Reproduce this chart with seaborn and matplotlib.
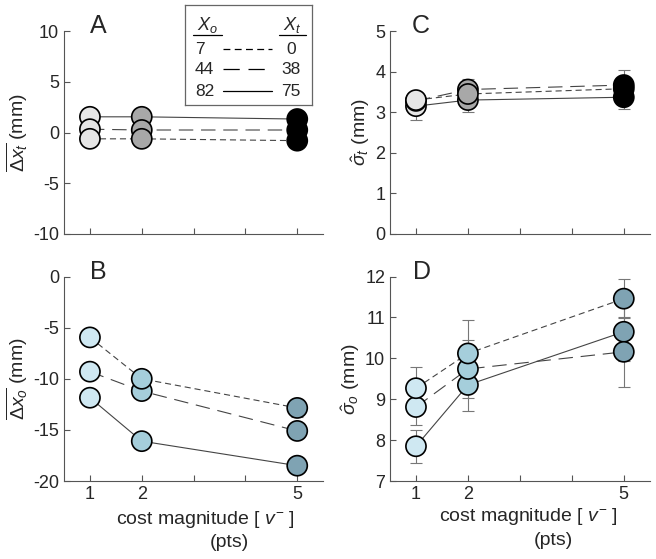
import numpy as np
import pandas as pd
import seaborn as sns
import matplotlib.pyplot as plt

sns.set_style('ticks')
plt.rcParams['font.family'] = ['Liberation Sans', 'DejaVu Sans']
plt.rcParams['mathtext.fontset'] = 'custom'
plt.rcParams['mathtext.rm'] = 'Liberation Sans'
plt.rcParams['mathtext.it'] = 'Liberation Sans:italic'
plt.rcParams['mathtext.bf'] = 'Liberation Sans:bold'
plt.rcParams['axes.unicode_minus'] = False

# cost magnitudes (pts)
cost = [1, 2, 5]
# series: x_o / x_t pairs, drawing order solid -> long dash -> short dash
series = ['82/75', '44/38', '7/0']

# A: mean target error (mm)
dxt = {'82/75': [1.55, 1.55, 1.33], '44/38': [0.33, 0.25, 0.25], '7/0': [-0.62, -0.62, -0.8]}
dxt_err = {'82/75': [0.2, 0.2, 0.2], '44/38': [0.2, 0.2, 0.2], '7/0': [0.2, 0.2, 0.2]}
# B: mean origin error (mm)
dxo = {'82/75': [-11.85, -16.1, -18.5], '44/38': [-9.3, -11.2, -15.1], '7/0': [-5.95, -10.0, -12.85]}
dxo_err = {'82/75': [0.3, 0.3, 0.3], '44/38': [0.3, 0.3, 0.3], '7/0': [0.5, 0.3, 0.9]}
# C: target sd (mm)
sdt = {'82/75': [3.15, 3.3, 3.37], '44/38': [3.28, 3.56, 3.67], '7/0': [3.3, 3.45, 3.58]}
sdt_err = {'82/75': [0.35, 0.3, 0.3], '44/38': [0.22, 0.25, 0.38], '7/0': [0.18, 0.2, 0.25]}
# D: origin sd (mm)
sdo = {'82/75': [7.85, 9.35, 10.65], '44/38': [8.81, 9.74, 10.16], '7/0': [9.27, 10.12, 11.46]}
sdo_err = {'82/75': [0.4, 0.63, 0.72], '44/38': [0.45, 0.7, 0.85], '7/0': [0.52, 0.82, 0.47]}

dash_styles = {'82/75': '', '44/38': (13, 7), '7/0': (5.5, 3.5)}
gray_pal = {1: '#e6e6e6', 2: '#a8a8a8', 5: '#000000'}
blue_pal = {1: '#cfe8f2', 2: '#a5cedb', 5: '#7fa3b3'}


def to_df(vals, errs):
    rows = []
    for s in series:
        for c, v, e in zip(cost, vals[s], errs[s]):
            rows.append({'cost': c, 'value': v, 'err': e, 'series': s})
    return pd.DataFrame(rows)


fig = plt.figure(figsize=(6.56, 5.59), dpi=100)
axA = fig.add_axes([0.0976, 0.5814, 0.395, 0.363])
axC = fig.add_axes([0.5945, 0.5814, 0.396, 0.363])
axB = fig.add_axes([0.0976, 0.1395, 0.395, 0.3657])
axD = fig.add_axes([0.5945, 0.1395, 0.396, 0.3657])

panels = [
    (axA, dxt, dxt_err, gray_pal, (-10, 10), [-10, -5, 0, 5, 10], r'$\overline{\Delta x_t}$ (mm)', 'A', 0.10),
    (axC, sdt, sdt_err, gray_pal, (0, 5), [0, 1, 2, 3, 4, 5], r'$\hat{\sigma}_t$ (mm)', 'C', 0.085),
    (axB, dxo, dxo_err, blue_pal, (-20, 0), [-20, -15, -10, -5, 0], r'$\overline{\Delta x_o}$ (mm)', 'B', 0.10),
    (axD, sdo, sdo_err, blue_pal, (7, 12), [7, 8, 9, 10, 11, 12], r'$\hat{\sigma}_o$ (mm)', 'D', 0.09),
]

for ax, vals, errs, pal, ylim, yticks, ylabel, letter, lx in panels:
    df = to_df(vals, errs)
    ax.errorbar(df['cost'], df['value'], yerr=df['err'], fmt='none',
                ecolor='#777777', elinewidth=0.8, capsize=4, capthick=0.8, zorder=1)
    sns.lineplot(data=df, x='cost', y='value', style='series', dashes=dash_styles,
                 color='#444444', linewidth=0.8, legend=False, ax=ax, zorder=2)
    sns.scatterplot(data=df, x='cost', y='value', hue='cost', palette=pal, s=210,
                    edgecolor='black', linewidth=1.2, legend=False, ax=ax, zorder=3)
    ax.set_xlim(0.5, 5.5)
    ax.set_ylim(*ylim)
    ax.set_yticks(yticks)
    ax.set_xticks([1, 2, 3, 4, 5])
    ax.tick_params(direction='in', length=4, width=0.8, color='#555555', labelsize=13)
    for sp in ['top', 'right']:
        ax.spines[sp].set_visible(False)
    for sp in ['left', 'bottom']:
        ax.spines[sp].set_color('#555555')
        ax.spines[sp].set_linewidth(0.8)
    ax.set_ylabel(ylabel, fontsize=14, labelpad=2)
    ax.set_xlabel('')
    ax.text(lx, 0.99, letter, transform=ax.transAxes, fontsize=18, ha='left', va='baseline')

for ax in [axA, axC]:
    ax.set_xticklabels([])
for ax in [axB, axD]:
    ax.set_xticklabels(['1', '2', '', '', '5'])

axB.text(0.544, -0.19, 'cost magnitude [ $v^{-}$ ]', transform=axB.transAxes, fontsize=14, ha='center', va='center')
axB.text(0.64, -0.30, '(pts)', transform=axB.transAxes, fontsize=14, ha='center', va='center')
axD.text(0.535, -0.175, 'cost magnitude [ $v^{-}$ ]', transform=axD.transAxes, fontsize=14, ha='center', va='center')
axD.text(0.63, -0.29, '(pts)', transform=axD.transAxes, fontsize=14, ha='center', va='center')

# legend box
xo_vals = ['82', '44', '7']
xt_vals = ['75', '38', '0']
leg = fig.add_axes([0.282, 0.812, 0.194, 0.179])
leg.set_xlim(0, 1)
leg.set_ylim(0, 1)
leg.set_xticks([])
leg.set_yticks([])
for sp in leg.spines.values():
    sp.set_color('#666666')
    sp.set_linewidth(0.9)
leg.text(0.173, 0.80, '$X_o$', fontsize=13, ha='center', va='center')
leg.text(0.843, 0.80, '$X_t$', fontsize=13, ha='center', va='center')
leg.plot([0.063, 0.291], [0.70, 0.70], color='black', lw=0.9)
leg.plot([0.74, 0.953], [0.70, 0.70], color='black', lw=0.9)
for yy, s, a, b in zip([0.14, 0.36, 0.56], series, xo_vals, xt_vals):
    leg.text(0.079, yy, a, fontsize=12.5, ha='left', va='center')
    leg.text(0.835, yy, b, fontsize=12.5, ha='center', va='center')
    ls = '-' if dash_styles[s] == '' else (0, dash_styles[s])
    leg.plot([0.30, 0.685], [yy, yy], color='black', lw=0.9, linestyle=ls)

fig.savefig('out.png', dpi=100)
